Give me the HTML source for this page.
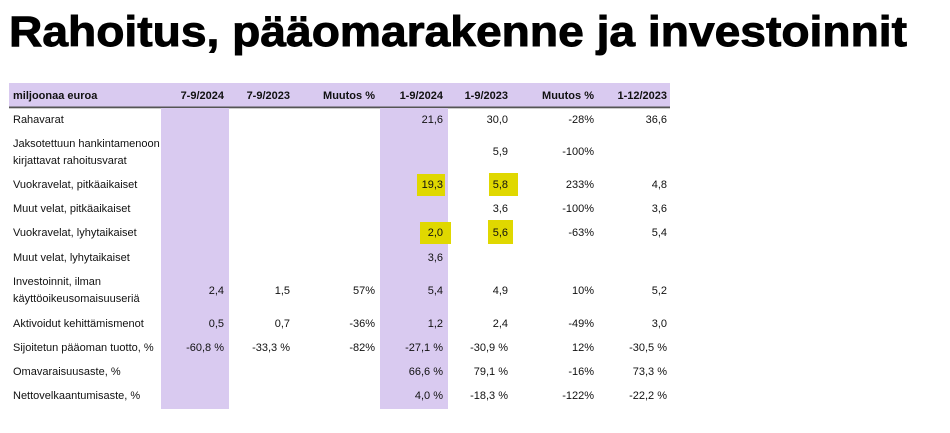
<!DOCTYPE html>
<html><head><meta charset="utf-8"><style>
html,body{margin:0;padding:0;background:#fff;}
svg{display:block;font-family:"Liberation Sans",sans-serif;}
</style></head><body>
<svg width="950" height="433" viewBox="0 0 950 433">
<text x="9" y="46" font-size="43" font-weight="bold" fill="#000" stroke="#000" stroke-width="0.9" textLength="898" lengthAdjust="spacingAndGlyphs">Rahoitus, pääomarakenne ja investoinnit</text>
<rect x="9" y="83" width="661" height="24" fill="#d9caf0"/>
<rect x="9" y="106.5" width="661" height="1.8" fill="#555"/>
<rect x="161" y="108" width="68" height="301" fill="#d9caf0"/>
<rect x="380" y="108" width="68" height="301" fill="#d9caf0"/>
<g fill="#e0d800">
<rect x="417" y="174" width="28" height="22"/>
<rect x="489" y="173" width="29" height="23"/>
<rect x="420" y="222" width="31" height="22"/>
<rect x="488" y="220" width="25" height="24"/>
</g>
<g font-size="11" font-weight="bold" fill="#111">
<text x="13" y="99">miljoonaa euroa</text>
<g text-anchor="end">
<text x="224" y="99">7-9/2024</text>
<text x="290" y="99">7-9/2023</text>
<text x="375" y="99">Muutos %</text>
<text x="443" y="99">1-9/2024</text>
<text x="508" y="99">1-9/2023</text>
<text x="594" y="99">Muutos %</text>
<text x="667" y="99">1-12/2023</text>
</g></g>
<g id="body" font-size="11" fill="#111"></g>
</svg>
<script>
const rows = [
 {l:["Rahavarat"], y:[123], v:["","","","21,6","30,0","-28%","36,6"], vy:123},
 {l:["Jaksotettuun hankintamenoon","kirjattavat rahoitusvarat"], y:[147,164], v:["","","","","5,9","-100%",""], vy:155},
 {l:["Vuokravelat, pitkäaikaiset"], y:[188], v:["","","","19,3","5,8","233%","4,8"], vy:188},
 {l:["Muut velat, pitkäaikaiset"], y:[212], v:["","","","","3,6","-100%","3,6"], vy:212},
 {l:["Vuokravelat, lyhytaikaiset"], y:[236], v:["","","","2,0","5,6","-63%","5,4"], vy:236},
 {l:["Muut velat, lyhytaikaiset"], y:[261], v:["","","","3,6","","",""], vy:261},
 {l:["Investoinnit, ilman","käyttöoikeusomaisuuseriä"], y:[285,302], v:["2,4","1,5","57%","5,4","4,9","10%","5,2"], vy:294},
 {l:["Aktivoidut kehittämismenot"], y:[327], v:["0,5","0,7","-36%","1,2","2,4","-49%","3,0"], vy:327},
 {l:["Sijoitetun pääoman tuotto, %"], y:[351], v:["-60,8 %","-33,3 %","-82%","-27,1 %","-30,9 %","12%","-30,5 %"], vy:351},
 {l:["Omavaraisuusaste, %"], y:[375], v:["","","","66,6 %","79,1 %","-16%","73,3 %"], vy:375},
 {l:["Nettovelkaantumisaste, %"], y:[399], v:["","","","4,0 %","-18,3 %","-122%","-22,2 %"], vy:399}
];
const colRight = [224,290,375,443,508,594,667];
const g = document.getElementById('body');
const NS = "http://www.w3.org/2000/svg";
rows.forEach((r,i)=>{
  r.l.forEach((t,j)=>{
    const e=document.createElementNS(NS,'text');
    e.setAttribute('x',13); e.setAttribute('y',r.y[j]);
    
    
    e.textContent=t; g.appendChild(e);
  });
  r.v.forEach((t,k)=>{
    if(!t) return;
    const e=document.createElementNS(NS,'text');
    e.setAttribute('x',colRight[k]); e.setAttribute('y',r.vy);
    e.setAttribute('text-anchor','end');
    
    
    e.textContent=t; g.appendChild(e);
  });
});
</script>
</body></html>
